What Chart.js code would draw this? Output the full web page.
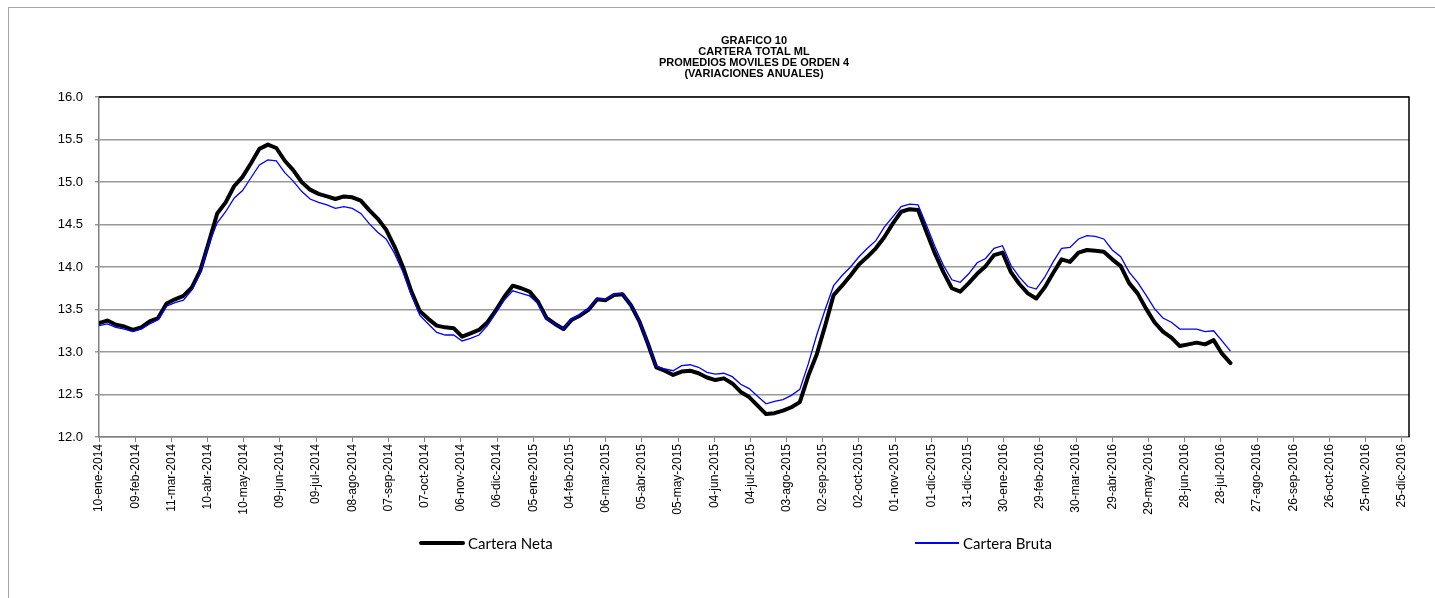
<!DOCTYPE html>
<html>
<head>
<meta charset="utf-8">
<script src="https://cdn.jsdelivr.net/npm/chart.js@4.4.0/dist/chart.umd.min.js"></script>
<style>
  html, body { margin: 0; padding: 0; background: #fff; }
  #wrap { position: relative; width: 1435px; height: 598px; overflow: hidden; }
  #frame { position: absolute; left: 8px; top: 7px; width: 1500px; height: 700px; border: 1px solid #a6a6a6; box-sizing: border-box; pointer-events: none; }
  canvas { position: absolute; left: 0; top: 0; }
  .leg { position: absolute; font-family: Lato, "Liberation Sans", sans-serif; font-size: 15px; color: #000; line-height: 18px; white-space: nowrap; }
  .legline { position: absolute; }
</style>
</head>
<body>
<div id="wrap">
  <div id="frame"></div>
  <canvas id="c" width="1435" height="598"></canvas>
  <div id="legend"></div>
</div>
<script>
// ---------- DATA ----------
const axisStart = '2014-01-10';
const axisEnd = '2016-12-31';

const weekDates = [
  '2014-01-10','2014-01-17','2014-01-24','2014-01-31','2014-02-07','2014-02-14','2014-02-21','2014-02-28',
  '2014-03-07','2014-03-14','2014-03-21','2014-03-28','2014-04-04','2014-04-11','2014-04-18','2014-04-25',
  '2014-05-02','2014-05-09','2014-05-16','2014-05-23','2014-05-30','2014-06-06','2014-06-13','2014-06-20',
  '2014-06-27','2014-07-04','2014-07-11','2014-07-18','2014-07-25','2014-08-01','2014-08-08','2014-08-15',
  '2014-08-22','2014-08-29','2014-09-05','2014-09-12','2014-09-19','2014-09-26','2014-10-03','2014-10-10',
  '2014-10-17','2014-10-24','2014-10-31','2014-11-07','2014-11-14','2014-11-21','2014-11-28','2014-12-05',
  '2014-12-12','2014-12-19','2014-12-26',
  '2015-01-02','2015-01-09','2015-01-16','2015-01-23','2015-01-30','2015-02-06','2015-02-13','2015-02-20',
  '2015-02-27','2015-03-06','2015-03-13','2015-03-20','2015-03-27','2015-04-03','2015-04-10','2015-04-17',
  '2015-04-24','2015-05-01','2015-05-08','2015-05-15','2015-05-22','2015-05-29','2015-06-05','2015-06-12',
  '2015-06-19','2015-06-26','2015-07-03','2015-07-10','2015-07-17','2015-07-24','2015-07-31','2015-08-07',
  '2015-08-14','2015-08-21','2015-08-28','2015-09-04','2015-09-11','2015-09-18','2015-09-25','2015-10-02',
  '2015-10-09','2015-10-16','2015-10-23','2015-10-30','2015-11-06','2015-11-13','2015-11-20','2015-11-27',
  '2015-12-04','2015-12-11','2015-12-18','2015-12-25',
  '2016-01-01','2016-01-08','2016-01-15','2016-01-22','2016-01-29','2016-02-05','2016-02-12','2016-02-19',
  '2016-02-26','2016-03-04','2016-03-11','2016-03-18','2016-03-25','2016-04-01','2016-04-08','2016-04-15',
  '2016-04-22','2016-04-29','2016-05-06','2016-05-13','2016-05-20','2016-05-27','2016-06-03','2016-06-10',
  '2016-06-17','2016-06-24','2016-07-01','2016-07-08','2016-07-15','2016-07-22','2016-07-29','2016-08-05'
];

const carteraNeta = [
  13.34,13.37,13.32,13.30,13.26,13.29,13.36,13.40,13.57,13.62,13.66,13.76,13.96,14.29,14.63,14.76,
  14.95,15.06,15.22,15.39,15.44,15.40,15.25,15.14,15.00,14.91,14.86,14.83,14.80,14.83,14.82,14.78,
  14.67,14.57,14.44,14.24,14.00,13.71,13.48,13.39,13.31,13.29,13.28,13.18,13.22,13.26,13.35,13.49,
  13.65,13.78,13.75,13.71,13.59,13.40,13.33,13.27,13.38,13.43,13.50,13.62,13.61,13.67,13.68,13.55,
  13.36,13.10,12.82,12.78,12.73,12.77,12.78,12.75,12.70,12.67,12.69,12.63,12.53,12.47,12.37,12.27,
  12.28,12.31,12.35,12.41,12.72,12.97,13.31,13.67,13.78,13.90,14.03,14.12,14.22,14.35,14.51,14.65,
  14.68,14.67,14.41,14.16,13.94,13.75,13.71,13.81,13.92,14.01,14.14,14.17,13.94,13.80,13.69,13.63,
  13.76,13.93,14.09,14.06,14.17,14.20,14.19,14.18,14.09,14.01,13.81,13.69,13.51,13.35,13.24,13.17,
  13.07,13.09,13.11,13.09,13.14,12.98,12.87
];

const carteraBruta = [
  13.31,13.33,13.29,13.27,13.24,13.27,13.33,13.38,13.54,13.58,13.61,13.73,13.93,14.27,14.52,14.65,
  14.81,14.90,15.05,15.20,15.26,15.25,15.11,15.01,14.89,14.80,14.76,14.73,14.69,14.71,14.69,14.63,
  14.51,14.41,14.33,14.16,13.94,13.67,13.43,13.33,13.23,13.20,13.20,13.13,13.16,13.20,13.31,13.46,
  13.61,13.72,13.69,13.66,13.57,13.39,13.33,13.27,13.39,13.44,13.51,13.63,13.62,13.68,13.69,13.55,
  13.37,13.11,12.83,12.80,12.78,12.84,12.85,12.82,12.76,12.74,12.75,12.71,12.62,12.57,12.48,12.39,
  12.42,12.44,12.49,12.56,12.86,13.20,13.50,13.78,13.90,14.00,14.12,14.22,14.31,14.47,14.59,14.71,
  14.74,14.73,14.49,14.24,14.02,13.85,13.82,13.92,14.05,14.10,14.22,14.25,14.02,13.88,13.77,13.74,
  13.88,14.06,14.22,14.23,14.33,14.37,14.36,14.33,14.20,14.12,13.94,13.82,13.67,13.51,13.40,13.35,
  13.27,13.27,13.27,13.24,13.25,13.13,13.01
];

const tickLabels = [
  '10-ene-2014','09-feb-2014','11-mar-2014','10-abr-2014','10-may-2014','09-jun-2014','09-jul-2014',
  '08-ago-2014','07-sep-2014','07-oct-2014','06-nov-2014','06-dic-2014','05-ene-2015','04-feb-2015',
  '06-mar-2015','05-abr-2015','05-may-2015','04-jun-2015','04-jul-2015','03-ago-2015','02-sep-2015',
  '02-oct-2015','01-nov-2015','01-dic-2015','31-dic-2015','30-ene-2016','29-feb-2016','30-mar-2016',
  '29-abr-2016','29-may-2016','28-jun-2016','28-jul-2016','27-ago-2016','26-sep-2016','26-oct-2016',
  '25-nov-2016','25-dic-2016'
];
const tickStepDays = 30;

const titleLines = ['GRAFICO 10', 'CARTERA TOTAL ML', 'PROMEDIOS MOVILES DE ORDEN 4', '(VARIACIONES ANUALES)'];
const seriesNames = ['Cartera Neta', 'Cartera Bruta'];

// ---------- HELPERS ----------
function dayOffset(s) {
  const [y, m, d] = s.split('-').map(Number);
  const [y0, m0, d0] = axisStart.split('-').map(Number);
  return Math.round((Date.UTC(y, m - 1, d) - Date.UTC(y0, m0 - 1, d0)) / 86400000);
}
const xs = weekDates.map(dayOffset);
const netaPts = carteraNeta.map((v, i) => ({ x: xs[i], y: v }));
const brutaPts = carteraBruta.map((v, i) => ({ x: xs[i], y: v }));

const titlePlugin = {
  id: 'customTitle',
  afterDraw(chart) {
    const ctx = chart.ctx;
    const ca = chart.chartArea;
    const cx = (ca.left + ca.right) / 2;
    ctx.save();
    ctx.fillStyle = '#000';
    ctx.font = 'bold 11px "Liberation Sans", Arial, sans-serif';
    ctx.textAlign = 'center';
    ctx.textBaseline = 'middle';
    titleLines.forEach((t, i) => ctx.fillText(t, cx, 41 + i * 11));
    // plot frame: top and right dark borders
    ctx.strokeStyle = '#000';
    ctx.lineWidth = 1.5;
    ctx.beginPath();
    ctx.moveTo(ca.left, ca.top);
    ctx.lineTo(ca.right, ca.top);
    ctx.lineTo(ca.right, ca.bottom);
    ctx.stroke();
    ctx.restore();
  }
};

const chart = new Chart(document.getElementById('c'), {
  type: 'line',
  data: {
    datasets: [
      {
        label: seriesNames[0], data: netaPts, borderColor: '#000000', backgroundColor: '#000000',
        borderWidth: 4, pointRadius: 0, tension: 0, order: 2, borderJoinStyle: 'round', borderCapStyle: 'round'
      },
      {
        label: seriesNames[1], data: brutaPts, borderColor: '#0000ff', backgroundColor: '#0000ff',
        borderWidth: 1.3, pointRadius: 0, tension: 0, order: 1
      }
    ]
  },
  options: {
    responsive: false,
    devicePixelRatio: 1,
    animation: false,
    events: [],
    layout: { padding: { left: 8, right: 26, top: 97, bottom: 61 } },
    plugins: { legend: { display: false }, title: { display: false }, tooltip: { enabled: false } },
    scales: {
      x: {
        type: 'linear',
        min: 0,
        max: dayOffset(axisEnd),
        afterBuildTicks: (scale) => { scale.ticks = tickLabels.map((_, i) => ({ value: i * tickStepDays })); },
        afterFit: (scale) => { scale.height = 100; },
        grid: { drawOnChartArea: false, drawTicks: true, tickLength: 5, color: '#808080', lineWidth: 1 },
        border: { display: true, color: '#808080', width: 1.5 },
        ticks: {
          autoSkip: false, minRotation: 90, maxRotation: 90, padding: 2, color: '#000',
          font: { family: '"Liberation Sans", Arial, sans-serif', size: 12 },
          callback: (v) => tickLabels[Math.round(v / tickStepDays)]
        }
      },
      y: {
        min: 12, max: 16,
        afterFit: (scale) => { scale.width = 91; },
        grid: { color: '#999999', lineWidth: 1.5, drawTicks: true, tickLength: 4 },
        border: { display: true, color: '#808080', width: 1.5 },
        ticks: {
          stepSize: 0.5, padding: 12, color: '#000',
          font: { family: '"Liberation Sans", Arial, sans-serif', size: 13 },
          callback: (v) => Number(v).toFixed(1)
        }
      }
    }
  },
  plugins: [titlePlugin]
});

// ---------- LEGEND (HTML) ----------
const legend = document.getElementById('legend');
const legendItems = [
  { name: seriesNames[0], color: '#000000', width: 4, lineLeft: 419, lineRight: 465, textLeft: 468 },
  { name: seriesNames[1], color: '#0000ff', width: 1.5, lineLeft: 915, lineRight: 959, textLeft: 963 }
];
const legendY = 543;
legendItems.forEach(it => {
  const ln = document.createElement('div');
  ln.className = 'legline';
  ln.style.left = it.lineLeft + 'px';
  ln.style.width = (it.lineRight - it.lineLeft) + 'px';
  ln.style.top = (legendY - it.width / 2) + 'px';
  ln.style.height = it.width + 'px';
  ln.style.background = it.color;
  if (it.width > 2) ln.style.borderRadius = '2px';
  legend.appendChild(ln);
  const tx = document.createElement('div');
  tx.className = 'leg';
  tx.style.left = it.textLeft + 'px';
  tx.style.top = (legendY - 9) + 'px';
  tx.textContent = it.name;
  legend.appendChild(tx);
});
</script>
</body>
</html>
